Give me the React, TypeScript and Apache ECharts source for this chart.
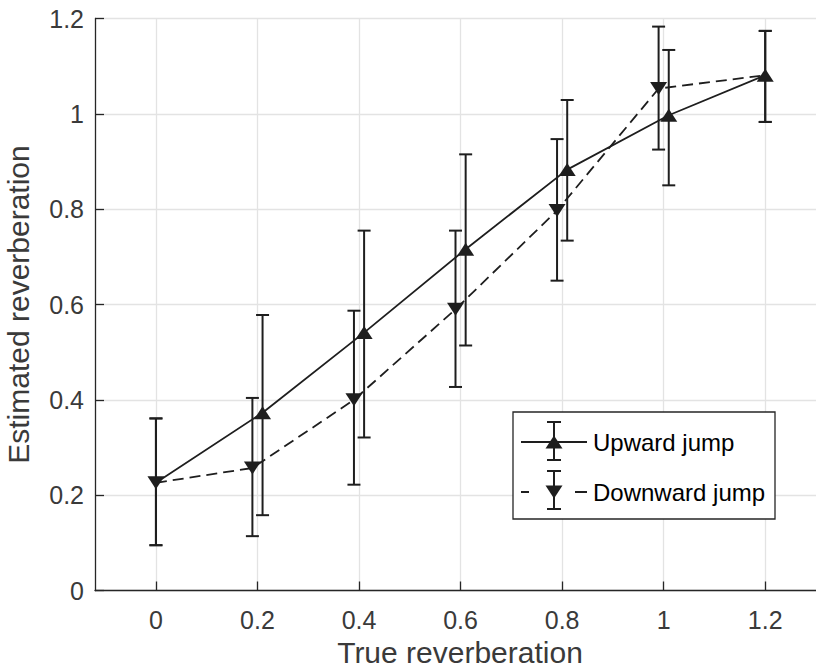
import React, { useEffect, useRef } from "react";
import * as echarts from "echarts";

// ---- data ----
const xTicks = [0, 0.2, 0.4, 0.6, 0.8, 1, 1.2];
const yTicks = [0, 0.2, 0.4, 0.6, 0.8, 1, 1.2];

const upX = [0, 0.21, 0.41, 0.61, 0.81, 1.01, 1.2];
const upY = [0.226, 0.373, 0.541, 0.716, 0.883, 0.997, 1.081];
const upLow = [0.095, 0.158, 0.321, 0.514, 0.734, 0.85, 0.983];
const upHigh = [0.361, 0.578, 0.755, 0.915, 1.029, 1.134, 1.174];
const upHiddenMarkers = [0];

const downX = [0, 0.19, 0.39, 0.59, 0.79, 0.99, 1.2];
const downY = [0.226, 0.257, 0.4, 0.59, 0.797, 1.053, 1.081];
const downLow = [0.095, 0.114, 0.222, 0.427, 0.65, 0.925, 0.983];
const downHigh = [0.361, 0.404, 0.587, 0.755, 0.947, 1.183, 1.174];
const downHiddenMarkers = [6];

const seriesNames = ["Upward jump", "Downward jump"];
const xName = "True reverberation";
const yName = "Estimated reverberation";

const INK = "#1e1e1e";
const AXIS = "#262626";
const LABEL = "#3a3a3a";
const GRIDC = "#e3e3e3";
const FONT = "'Liberation Sans', Arial, Helvetica, sans-serif";

export default function App() {
  const ref = useRef<HTMLDivElement>(null);

  useEffect(() => {
    const chart = echarts.init(ref.current!, null, { renderer: "svg" });

    const errSeries = (name: string, xs: number[], lows: number[], highs: number[]) => ({
      type: "custom",
      name,
      data: xs.map((x, i) => [x, lows[i], highs[i]]),
      encode: { x: 0, y: [1, 2] },
      z: 3,
      renderItem: (_params: any, api: any) => {
        const x = api.value(0);
        const pLo = api.coord([x, api.value(1)]);
        const pHi = api.coord([x, api.value(2)]);
        const hw = 6.5;
        const st = { stroke: INK, lineWidth: 2 };
        return {
          type: "group",
          children: [
            { type: "line", shape: { x1: pLo[0], y1: pLo[1], x2: pHi[0], y2: pHi[1] }, style: st },
            { type: "line", shape: { x1: pLo[0] - hw, y1: pLo[1], x2: pLo[0] + hw, y2: pLo[1] }, style: st },
            { type: "line", shape: { x1: pHi[0] - hw, y1: pHi[1], x2: pHi[0] + hw, y2: pHi[1] }, style: st },
          ],
        };
      },
    });

    const lineData = (xs: number[], ys: number[], hidden: number[]) =>
      xs.map((x, i) => (hidden.includes(i) ? { value: [x, ys[i]], symbol: "none" } : [x, ys[i]]));

    // legend drawn as graphics (needs error-bar icons)
    const lx = 513, ly = 412, lw = 262, lh = 107;
    const cx = 554;
    const r1 = 442, r2 = 492;
    const gst = { stroke: INK, lineWidth: 2 };
    const Z = 100;
    const legendEls: any[] = [
      { type: "rect", z: Z, shape: { x: lx, y: ly, width: lw, height: lh }, style: { fill: "#fff", stroke: AXIS, lineWidth: 1.3 } },
      // row 1
      { type: "line", z: Z + 1, shape: { x1: 521, y1: r1, x2: 587, y2: r1 }, style: gst },
      { type: "line", z: Z + 1, shape: { x1: cx, y1: r1 - 20, x2: cx, y2: r1 + 18 }, style: gst },
      { type: "line", z: Z + 1, shape: { x1: cx - 7, y1: r1 - 20, x2: cx + 7, y2: r1 - 20 }, style: gst },
      { type: "line", z: Z + 1, shape: { x1: cx - 7, y1: r1 + 18, x2: cx + 7, y2: r1 + 18 }, style: gst },
      { type: "polygon", z: Z + 2, shape: { points: [[cx, r1 - 6.5], [cx + 8.5, r1 + 6.5], [cx - 8.5, r1 + 6.5]] }, style: { fill: INK } },
      { type: "text", z: Z + 2, x: 593, y: r1, style: { text: seriesNames[0], font: `24px ${FONT}`, fill: "#000", verticalAlign: "middle" } },
      // row 2
      { type: "line", z: Z + 1, shape: { x1: 521, y1: r2, x2: 529, y2: r2 }, style: gst },
      { type: "line", z: Z + 1, shape: { x1: 575, y1: r2, x2: 587, y2: r2 }, style: gst },
      { type: "line", z: Z + 1, shape: { x1: cx, y1: r2 - 21, x2: cx, y2: r2 + 17 }, style: gst },
      { type: "line", z: Z + 1, shape: { x1: cx - 7, y1: r2 - 21, x2: cx + 7, y2: r2 - 21 }, style: gst },
      { type: "line", z: Z + 1, shape: { x1: cx - 7, y1: r2 + 17, x2: cx + 7, y2: r2 + 17 }, style: gst },
      { type: "polygon", z: Z + 2, shape: { points: [[cx - 8.5, r2 - 6.5], [cx + 8.5, r2 - 6.5], [cx, r2 + 6.5]] }, style: { fill: INK } },
      { type: "text", z: Z + 2, x: 593, y: r2, style: { text: seriesNames[1], font: `24px ${FONT}`, fill: "#000", verticalAlign: "middle" } },
    ];

    chart.setOption({
      animation: false,
      backgroundColor: "#fff",
      grid: { left: 95, right: 0, top: 18.5, bottom: 80.5, containLabel: false, outerBoundsMode: "none" },
      xAxis: {
        type: "value",
        min: -0.12,
        max: 1.3,
        name: xName,
        nameLocation: "middle",
        nameGap: 45,
        nameTextStyle: { fontFamily: FONT, fontSize: 30, color: LABEL, padding: [0, 0, 0, 9] },
        axisLine: { show: true, onZero: false, lineStyle: { color: AXIS, width: 1.3 } },
        axisTick: { show: true, inside: true, length: 9, customValues: xTicks, lineStyle: { color: AXIS, width: 1.3 } },
        axisLabel: { customValues: xTicks, margin: 17, fontFamily: FONT, fontSize: 25, color: LABEL, formatter: (v: number) => String(v) },
        splitLine: { show: true, lineStyle: { color: GRIDC, width: 1.3 } },
      },
      yAxis: {
        type: "value",
        min: 0,
        max: 1.2,
        interval: 0.2,
        name: yName,
        nameLocation: "middle",
        nameGap: 62,
        nameTextStyle: { fontFamily: FONT, fontSize: 30, color: LABEL },
        axisLine: { show: true, onZero: false, lineStyle: { color: AXIS, width: 1.3 } },
        axisTick: { show: true, inside: true, length: 9, lineStyle: { color: AXIS, width: 1.3 } },
        axisLabel: { customValues: yTicks, margin: 11, fontFamily: FONT, fontSize: 25, color: LABEL, formatter: (v: number) => String(Math.round(v * 10) / 10) },
        splitLine: { show: true, lineStyle: { color: GRIDC, width: 1.3 } },
      },
      series: [
        errSeries(seriesNames[0] + " err", upX, upLow, upHigh),
        errSeries(seriesNames[1] + " err", downX, downLow, downHigh),
        {
          type: "line",
          name: seriesNames[0],
          data: lineData(upX, upY, upHiddenMarkers),
          symbol: "triangle",
          symbolSize: [17, 13],
          showAllSymbol: true,
          lineStyle: { color: INK, width: 1.8 },
          itemStyle: { color: INK },
          z: 4,
        },
        {
          type: "line",
          name: seriesNames[1],
          data: lineData(downX, downY, downHiddenMarkers),
          symbol: "triangle",
          symbolRotate: 180,
          symbolSize: [17, 13],
          showAllSymbol: true,
          lineStyle: { color: INK, width: 1.8, type: [11, 6] },
          itemStyle: { color: INK },
          z: 4,
        },
      ],
      graphic: legendEls,
    });

    return () => chart.dispose();
  }, []);

  return <div ref={ref} style={{ position: "fixed", left: 0, top: 0, width: 816, height: 671, background: "#fff" }} />;
}
